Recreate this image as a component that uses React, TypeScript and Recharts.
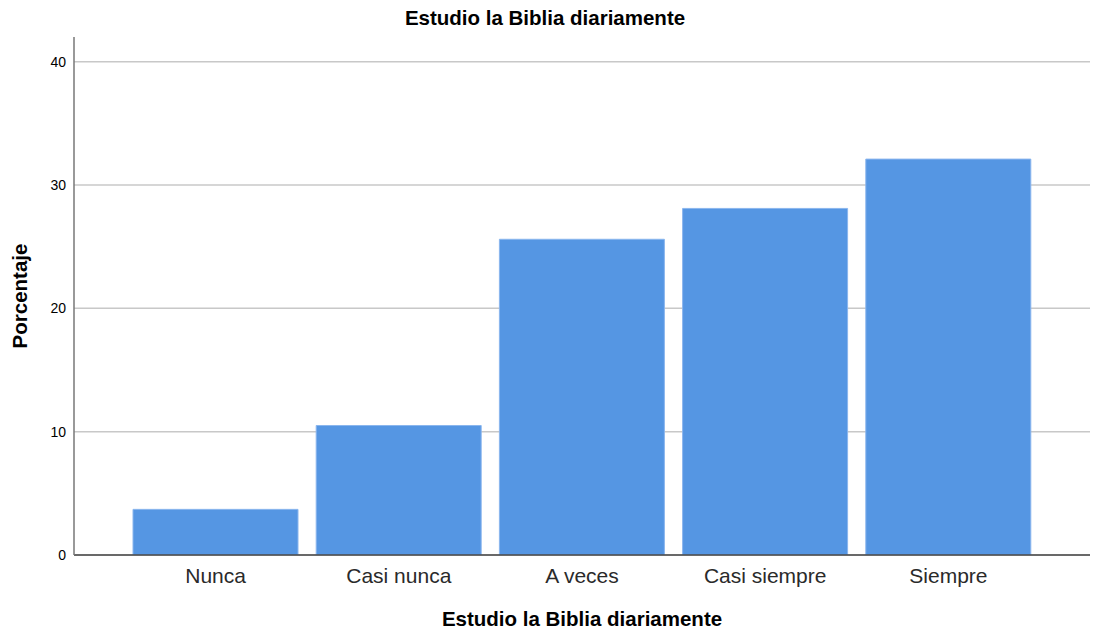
import React from "react";
import { BarChart, Bar, XAxis, YAxis, CartesianGrid, Label } from "recharts";

const categories = ["Nunca", "Casi nunca", "A veces", "Casi siempre", "Siempre"];
const percents = [3.7, 10.5, 25.6, 28.1, 32.1];
const yTicks = [0, 10, 20, 30, 40];

const data = categories.map((name, i) => ({ name, pct: percents[i] }));

const font = "'Liberation Sans', Arial, sans-serif";

function App() {
  return (
    <div style={{ position: "absolute", left: 0, top: 0, width: 1097, height: 633, background: "#fff" }}>
      <BarChart
        width={1097}
        height={633}
        data={data}
        margin={{ top: 37, right: 7, bottom: 38, left: 34 }}
        barCategoryGap={9}
      >
        <text
          x={545}
          y={25}
          textAnchor="middle"
          style={{ fontFamily: font, fontSize: 20.5, fontWeight: "bold", fill: "#000" }}
        >
          Estudio la Biblia diariamente
        </text>
        <CartesianGrid vertical={false} horizontalValues={yTicks} stroke="#c8c8c8" strokeWidth={1.5} />
        <XAxis
          dataKey="name"
          height={40}
          padding={{ left: 50, right: 50 }}
          tickLine={false}
          axisLine={{ stroke: "#444", strokeWidth: 1.5 }}
          tick={{ fontFamily: font, fontSize: 21, fill: "#2a2a2a" }}
          tickMargin={7}
        >
          <Label
            value="Estudio la Biblia diariamente"
            position="bottom"
            offset={16}
            style={{ fontFamily: font, fontSize: 20.5, fontWeight: "bold", fill: "#000" }}
          />
        </XAxis>
        <YAxis
          width={40}
          domain={[0, 42]}
          ticks={yTicks}
          allowDataOverflow
          tickLine={false}
          axisLine={{ stroke: "#777", strokeWidth: 1.5 }}
          tick={{ fontFamily: font, fontSize: 14, fill: "#000" }}
          tickMargin={2}
        >
          <Label
            value="Porcentaje"
            angle={-90}
            position="insideLeft"
            offset={-14}
            style={{ fontFamily: font, fontSize: 20.5, fontWeight: "bold", fill: "#000", textAnchor: "middle" }}
          />
        </YAxis>
        <Bar dataKey="pct" fill="#5596e3" stroke="#8ab6ee" strokeWidth={1} isAnimationActive={false} />
      </BarChart>
    </div>
  );
}

export default App;
